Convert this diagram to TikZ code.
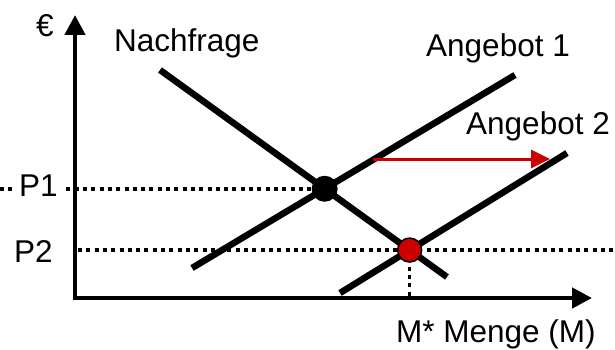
\documentclass[tikz,border=0pt]{standalone}
\usepackage{fontspec}
\setmainfont{Liberation Sans}
\usetikzlibrary{arrows.meta}
\begin{document}
\begin{tikzpicture}[x=1pt,y=-1pt,
  axis/.style={line width=4.5pt,-{Triangle[length=20pt,width=20pt]}},
  curve/.style={line width=6.5pt},
  dots/.style={line width=3.5pt,dash pattern=on 4pt off 4.3pt},
  shiftarrow/.style={line width=3pt,draw=shiftred,-{Triangle[length=19pt,width=18pt]}},
  lbl/.style={inner sep=0pt,font=\fontsize{31.5}{38}\selectfont},
  blackdot/.style={circle,fill=black,minimum size=26pt,inner sep=0pt},
  reddot/.style={circle,fill=shiftred,draw=black,line width=1.5pt,minimum size=24pt,inner sep=0pt}]
\definecolor{shiftred}{RGB}{204,0,0}
\useasboundingbox (0,0) rectangle (615,350);
% line end points
\coordinate (n1) at (160,70);
\coordinate (n2) at (447,277);
\coordinate (a1) at (192,268);
\coordinate (a2) at (515,75);
\coordinate (b1) at (340,293);
\coordinate (b2) at (567,153);
\coordinate (o) at (75,298);
\coordinate (ytip) at (75,15);
\coordinate (xtip) at (592,298);
\coordinate (bdc) at (intersection of n1--n2 and a1--a2);
\coordinate (rdc) at (intersection of n1--n2 and b1--b2);
\coordinate (p1l) at (0,0 |- bdc);
\coordinate (p2l) at (78,0 |- rdc);
\coordinate (p2r) at (615,0 |- rdc);
\coordinate (mfoot) at (rdc |- o);
\coordinate (sa) at (373,159);
\coordinate (sb) at (550,159);
% dotted guides
\draw[dots] (p1l) -- (bdc);
\draw[dots] (p2l) -- (p2r);
\draw[dots] (rdc) -- (mfoot);
% axes
\draw[axis] (o) ++(0,2) -- (ytip);
\draw[axis] (o) ++(-2,0) -- (xtip);
% curves
\draw[curve] (n1) -- (n2);
\draw[curve] (a1) -- (a2);
\draw[curve] (b1) -- (b2);
% shift arrow
\draw[shiftarrow] (sa) -- (sb);
% points
\node[blackdot] (bd) at (bdc) {};
\node[reddot] (rd) at (rdc) {};
% labels
\node[lbl,anchor=center] (euro) at (45,26) {€};
\node[lbl,anchor=base west] (nach) at (114,52) {Nachfrage};
\node[lbl,anchor=base west] (ang1) at (426,57) {Angebot 1};
\node[lbl,anchor=base west] (ang2) at (466,135) {Angebot 2};
\node[lbl,anchor=base west,fill=white,inner xsep=4pt] (p1) at (15,196) {P1};
\node[lbl,anchor=base west] (p2) at (14,262) {P2};
\node[lbl,anchor=base west] (menge) at (396,342) {M* Menge (M)};
\end{tikzpicture}
\end{document}
